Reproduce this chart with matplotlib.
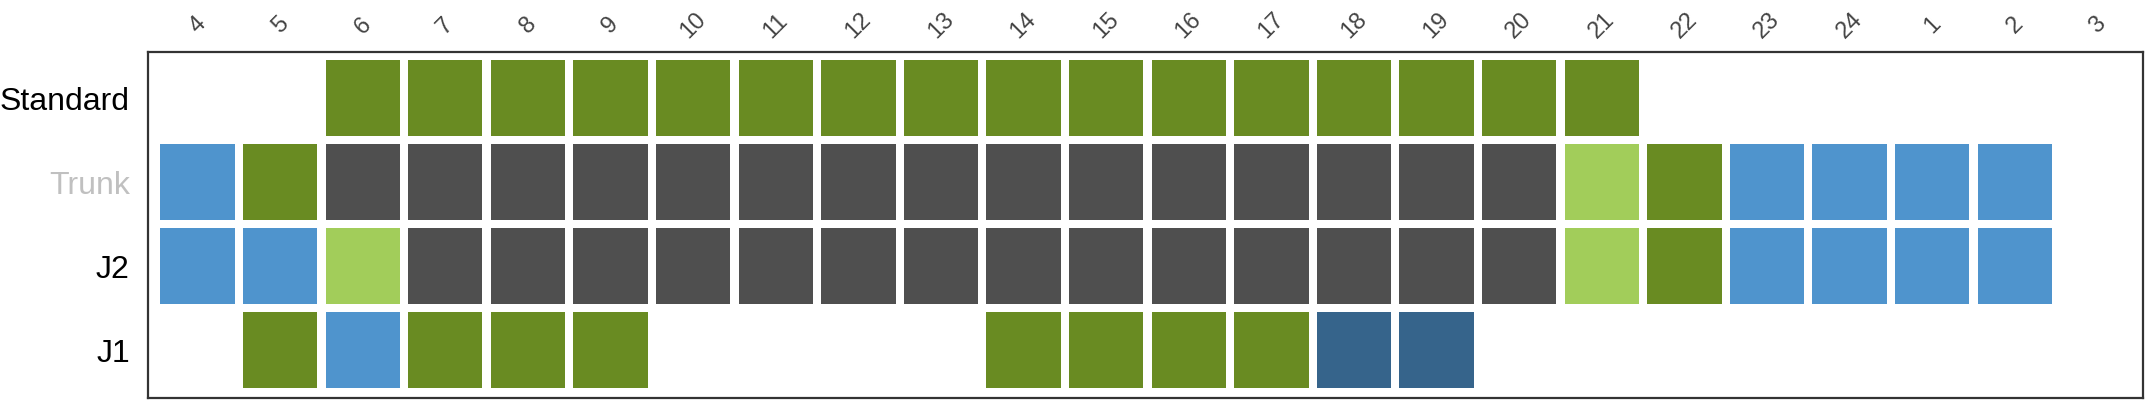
import matplotlib.pyplot as plt

# column hours (left to right) and rows (top to bottom)
hours = [4, 5, 6, 7, 8, 9, 10, 11, 12, 13, 14, 15, 16, 17, 18, 19, 20, 21, 22, 23, 24, 1, 2, 3]
rows = ['Standard', 'Trunk', 'J2', 'J1']

# status codes per cell: G=green, D=dark grey, B=blue, L=light green, N=navy, ''=empty
standard = ['', '', 'G', 'G', 'G', 'G', 'G', 'G', 'G', 'G', 'G', 'G', 'G', 'G', 'G', 'G', 'G', 'G',
            '', '', '', '', '', '']
trunk = ['B', 'G', 'D', 'D', 'D', 'D', 'D', 'D', 'D', 'D', 'D', 'D', 'D', 'D', 'D', 'D', 'D', 'L',
         'G', 'B', 'B', 'B', 'B', '']
j2 = ['B', 'B', 'L', 'D', 'D', 'D', 'D', 'D', 'D', 'D', 'D', 'D', 'D', 'D', 'D', 'D', 'D', 'L',
      'G', 'B', 'B', 'B', 'B', '']
j1 = ['', 'G', 'B', 'G', 'G', 'G', '', '', '', '', 'G', 'G', 'G', 'G', 'N', 'N', '', '',
      '', '', '', '', '', '']
grid = [standard, trunk, j2, j1]

colors = {'G': '#698B22', 'D': '#4F4F4F', 'B': '#4F94CD', 'L': '#A2CD5A', 'N': '#36648B'}
label_colors = ['black', '#C0C0C0', 'black', 'black']

fig = plt.figure(figsize=(21.5, 4), dpi=100)
ax = fig.add_axes([0.0688, 0.005, 0.9279, 0.865])

for r, row in enumerate(grid):
    for c, code in enumerate(row):
        if code:
            ax.bar(c, 0.9, width=0.9, bottom=r - 0.45, color=colors[code], linewidth=0)

ax.set_xlim(-0.6, 23.55)
ax.set_ylim(3.57, -0.55)

ax.xaxis.tick_top()
ax.set_xticks(range(len(hours)))
ax.set_xticklabels([str(h) for h in hours], rotation=45, ha='center', va='center',
                   fontsize=17, color='#444444', family='Liberation Sans')
ax.tick_params(axis='x', length=0, pad=19)

ax.set_yticks(range(len(rows)))
ax.set_yticklabels(rows, fontsize=23, family='Liberation Sans')
for lbl, col in zip(ax.get_yticklabels(), label_colors):
    lbl.set_color(col)
ax.tick_params(axis='y', length=0, pad=13)

for s in ax.spines.values():
    s.set_color('#333333')
    s.set_linewidth(1.6)

fig.savefig('out.png', dpi=100)
